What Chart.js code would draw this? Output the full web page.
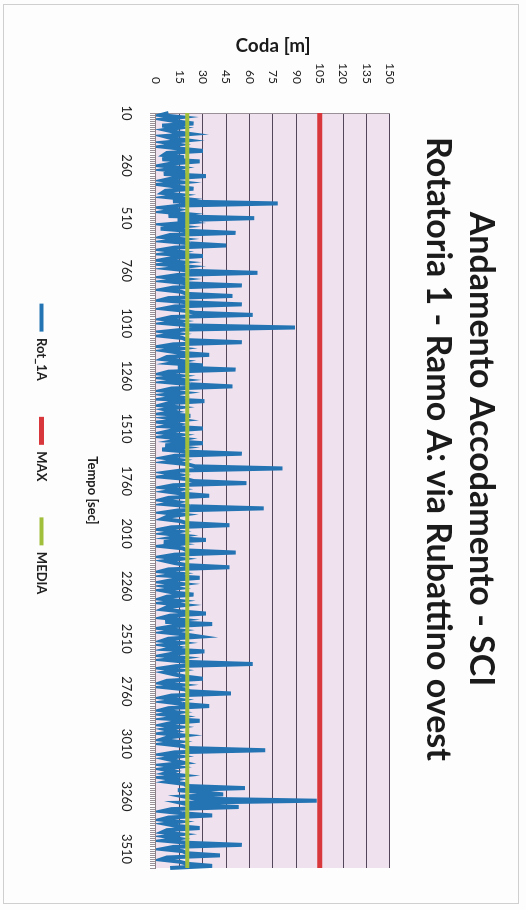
<!DOCTYPE html>
<html>
<head>
<meta charset="utf-8">
<script src="https://cdn.jsdelivr.net/npm/chart.js@4/dist/chart.umd.min.js"></script>
<style>
  html, body { margin: 0; padding: 0; background: #fdfdfd; }
  #frame {
    position: absolute; left: 3px; top: 4px; width: 516px; height: 900px;
    border: 1px solid #cfcfcf; box-sizing: border-box;
  }
  /* il grafico originale è ruotato di 90° in senso orario */
  #wrap {
    position: absolute; left: 0; top: 0; width: 910px; height: 526px;
    transform-origin: 0 0;
    transform: translate(526px, 0) rotate(90deg);
  }
</style>
</head>
<body>
<div id="frame"></div>
<div id="wrap"><canvas id="codaChart" width="910" height="526"></canvas></div>
<script>
// Dati
const titolo = ["Andamento Accodamento - SCI", "Rotatoria 1 - Ramo A: via Rubattino ovest"];
const tStart = 10;
const tStep = 10;
const tickLabels = [10, 260, 510, 760, 1010, 1260, 1510, 1760, 2010, 2260, 2510, 2760, 3010, 3260, 3510];
const codaTicks = [0, 15, 30, 45, 60, 75, 90, 105, 120, 135, 150];

// Rot_1A - coda [m] ogni 10 sec
const rot1A = [
  8, 3, 16, 5, 13, 24, 4, 15, 6, 12, 22, 5, 10, 20, 6, 14, 4, 16, 30, 7,
  5, 18, 4, 28, 10, 3, 15, 6, 19, 5, 32, 11, 5, 17, 3, 13, 24, 6, 4, 16,
  7, 20, 11, 78, 16, 4, 13, 5, 19, 8, 63, 14, 22, 6, 17, 3, 20, 51, 9, 4,
  17, 7, 22, 45, 12, 4, 15, 6, 30, 10, 3, 17, 5, 20, 9, 22, 65, 14, 5, 18,
  7, 20, 55, 11, 4, 16, 20, 49, 8, 3, 20, 55, 12, 5, 18, 25, 62, 10, 4, 15,
  6, 22, 89, 18, 5, 14, 4, 17, 20, 55, 11, 3, 16, 6, 15, 34, 7, 4, 17, 10,
  30, 14, 51, 8, 3, 15, 5, 18, 7, 22, 49, 10, 4, 17, 6, 14, 5, 31, 8, 3,
  15, 6, 12, 4, 22, 8, 17, 3, 13, 6, 30, 10, 4, 15, 5, 18, 11, 30, 6, 17,
  4, 20, 55, 12, 5, 15, 7, 20, 25, 81, 16, 6, 14, 4, 19, 24, 58, 11, 4, 15,
  7, 17, 34, 8, 3, 13, 6, 22, 69, 14, 5, 17, 7, 4, 15, 20, 47, 10, 3, 14,
  6, 18, 10, 32, 5, 15, 4, 17, 20, 51, 12, 4, 16, 6, 12, 20, 47, 8, 3, 15,
  7, 28, 11, 4, 17, 6, 14, 4, 11, 24, 7, 3, 15, 5, 18, 7, 4, 16, 32, 9,
  4, 17, 6, 36, 11, 3, 15, 6, 19, 28, 8, 4, 16, 5, 13, 7, 31, 11, 4, 17,
  6, 20, 62, 13, 4, 15, 6, 12, 19, 30, 7, 3, 16, 5, 18, 22, 48, 10, 4, 15,
  6, 17, 34, 8, 3, 14, 5, 16, 7, 28, 10, 4, 15, 6, 12, 4, 18, 7, 3, 14,
  5, 17, 22, 70, 12, 4, 15, 6, 12, 18, 5, 14, 4, 11, 6, 17, 4, 13, 7, 18,
  20, 57, 14, 30, 43, 18, 25, 103, 16, 22, 53, 10, 4, 17, 36, 8, 3, 15, 6, 13,
  28, 7, 4, 16, 6, 14, 5, 20, 55, 11, 4, 17, 20, 41, 7, 3, 15, 20, 36, 9
];
const valoreMax = 105;
const valoreMedia = 20;

const tempo = rot1A.map((_, i) => tStart + i * tStep);

// sfondo dell'area del grafico
const plotBg = {
  id: "plotBg",
  beforeDraw(chart) {
    const { ctx, chartArea: a } = chart;
    ctx.save();
    ctx.fillStyle = "#f0e1ee";
    ctx.fillRect(a.left, a.top, a.right - a.left, a.bottom - a.top);
    ctx.restore();
  },
};

const font = "Lato, 'Open Sans', sans-serif";

document.addEventListener("DOMContentLoaded", () => {
  const ctx = document.getElementById("codaChart").getContext("2d");

  new Chart(ctx, {
    type: "line",
    data: {
      labels: tempo,
      datasets: [
        {
          label: "Rot_1A",
          data: rot1A,
          borderColor: "#2474b3",
          backgroundColor: "#2474b3",
          borderWidth: 4,
          pointRadius: 0,
          pointStyle: "line",
          order: 2,
        },
        {
          label: "MAX",
          data: tempo.map(() => valoreMax),
          borderColor: "#d8383c",
          backgroundColor: "#d8383c",
          borderWidth: 5,
          pointRadius: 0,
          pointStyle: "line",
          order: 1,
        },
        {
          label: "MEDIA",
          data: tempo.map(() => valoreMedia),
          borderColor: "#a2bf3c",
          backgroundColor: "#a2bf3c",
          borderWidth: 4,
          pointRadius: 0,
          pointStyle: "line",
          order: 0,
        },
      ],
    },
    options: {
      responsive: false,
      animation: false,
      devicePixelRatio: 1,
      layout: { padding: { left: 30, right: 42, top: 0, bottom: 25 } },
      plugins: {
        title: {
          display: true,
          text: titolo,
          color: "#1b1b1b",
          font: { family: font, size: 34, weight: "bold", lineHeight: 1.25 },
          padding: { top: 24, bottom: 27 },
        },
        legend: {
          position: "bottom",
          labels: {
            usePointStyle: true,
            pointStyleWidth: 28,
            padding: 36,
            color: "#222",
            font: { family: font, size: 13, weight: "bold" },
            sort: (a, b) => a.datasetIndex - b.datasetIndex,
          },
        },
        tooltip: { enabled: false },
      },
      scales: {
        x: {
          type: "category",
          offset: false,
          grid: { drawOnChartArea: false, drawTicks: true, tickLength: 6, color: "#9a9098" },
          border: { display: true, color: "#8a8088" },
          ticks: {
            autoSkip: false,
            maxRotation: 0,
            minRotation: 0,
            padding: 16,
            color: "#222",
            font: { family: font, size: 13 },
            callback: function (value) {
              const t = this.getLabelForValue(value);
              return tickLabels.includes(t) ? String(t) : "";
            },
          },
          title: {
            display: true,
            text: "Tempo [sec]",
            color: "#1b1b1b",
            font: { family: font, size: 13, weight: "bold" },
            padding: { top: 4, bottom: 0 },
          },
          afterFit: (scale) => { scale.height = 72; },
        },
        y: {
          min: 0,
          max: 150,
          afterBuildTicks: (scale) => { scale.ticks = codaTicks.map((v) => ({ value: v })); },
          grid: { color: "#54465a", lineWidth: 1, drawTicks: false },
          border: { display: true, color: "#9a9098" },
          ticks: {
            padding: 29,
            color: "#222",
            font: { family: font, size: 12 },
          },
          title: {
            display: true,
            text: "Coda [m]",
            color: "#1b1b1b",
            font: { family: font, size: 19, weight: "bold" },
          },
          afterFit: (scale) => { scale.width = 83; },
        },
      },
    },
    plugins: [plotBg],
  });
});
</script>
</body>
</html>
